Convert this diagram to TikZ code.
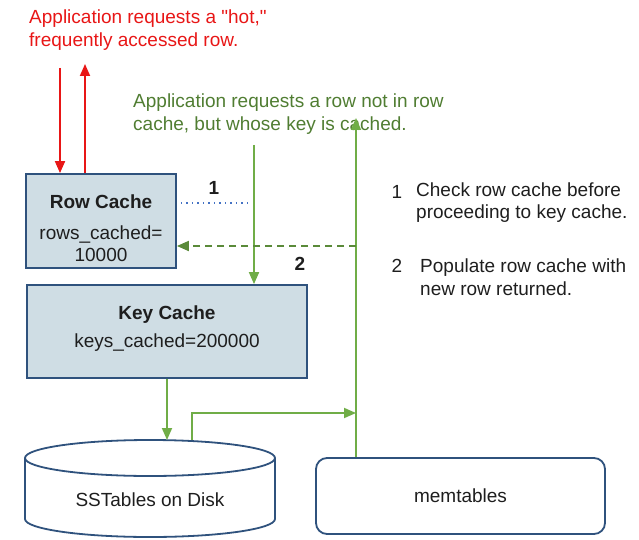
\documentclass[tikz,border=0pt]{standalone}
\usepackage{fontspec}
\setmainfont{Liberation Sans}
\usetikzlibrary{arrows.meta}
\definecolor{hotred}{RGB}{232,22,22}
\definecolor{keygreen}{RGB}{80,125,50}
\definecolor{linegreen}{RGB}{112,173,71}
\definecolor{cachefill}{RGB}{207,221,228}
\definecolor{cacheborder}{RGB}{47,82,125}
\definecolor{dotblue}{RGB}{68,114,196}
\definecolor{inkdark}{RGB}{30,30,30}
\tikzset{
   every node/.style={font=\fontsize{19}{22.5}\selectfont, text=inkdark},
   cache box/.style={rectangle, draw=cacheborder, line width=1.8pt, fill=cachefill, align=center, inner sep=0pt},
   store box/.style={rectangle, draw=cacheborder, line width=1.8pt, rounded corners=11pt, fill=white},
   disk line/.style={draw=cacheborder, line width=1.8pt},
   red arrow/.style={draw=hotred, line width=1.8pt, -{Triangle[length=12pt,width=10pt]}},
   green arrow/.style={draw=linegreen, line width=1.8pt, -{Triangle[length=12pt,width=10pt]}},
   return arrow/.style={draw=linegreen!80!black, line width=1.8pt, dash pattern=on 7pt off 5pt, -{Triangle[length=12pt,width=10pt]}}
}
\begin{document}
\begin{tikzpicture}[x=1pt, y=-1pt]
\useasboundingbox (0,0) rectangle (639,540);
% caches
\node[cache box, minimum width=150pt, minimum height=94pt] (row) at (101,221)
   {\rule{0pt}{29pt}\textbf{Row Cache}\\[8pt]rows\_cached=\\10000};
\node[cache box, minimum width=280pt, minimum height=93pt] (key) at (167,331.5)
   {\textbf{Key Cache}\\[5pt]keys\_cached=200000\rule[-10pt]{0pt}{1pt}};
% storage
\draw[disk line] (25,458) -- (25,519) arc (180:0:125 and 18) -- (275,458);
\draw[disk line] (150,458) ellipse (125 and 18);
\coordinate (disktop) at (150,440);
\node (disk) at (150,500) {SSTables on Disk};
\node[store box, minimum width=289pt, minimum height=76pt] (mem) at (460.5,496) {memtables};
% requests
\node[anchor=west, align=left, text=hotred, inner sep=0pt] (hotreq) at (29,30)
   {Application requests a \textquotedbl hot,\textquotedbl\\frequently accessed row.};
\node[anchor=west, align=left, text=keygreen, inner sep=0pt] (keyreq) at (133,114)
   {Application requests a row not in row\\cache, but whose key is cached.};
\coordinate (hotin) at (60,68);
\coordinate (hotout) at (85,64);
\coordinate (reqin) at (254,145);
\coordinate (reqout) at (356,118);
\coordinate (chk) at (250,203);
\coordinate (ret) at (356,246);
\coordinate (flush) at (192,413);
\draw[red arrow] (hotin) -- (hotin |- row.north);
\draw[red arrow] (hotout |- row.north) -- (hotout);
\draw[green arrow] (reqin) -- (reqin |- key.north);
\draw[green arrow] (reqout |- mem.north) -- (reqout);
\draw[dotblue, line width=1.5pt, dash pattern=on 1.5pt off 4pt] ([xshift=4pt]chk -| row.east) -- (chk);
\draw[return arrow] (ret) -- (ret -| row.east);
\draw[green arrow] (key.south) -- (key.south |- disktop);
\draw[green arrow] (flush |- disktop) -- (flush) -- (flush -| reqout);
% step numbers
\node[font=\fontsize{19}{22.5}\selectfont\bfseries] (one) at (214,188) {1};
\node[font=\fontsize{19}{22.5}\selectfont\bfseries] (two) at (300,264) {2};
% legend
\node (leg1) at (397,192) {1};
\node[anchor=west, align=left, inner sep=0pt] (legtext1) at (416,202.5)
   {Check row cache before\\proceeding to key cache.};
\node (leg2) at (397,266) {2};
\node[anchor=west, align=left, inner sep=0pt] (legtext2) at (420,277)
   {Populate row cache with\\new row returned.};
\end{tikzpicture}
\end{document}
